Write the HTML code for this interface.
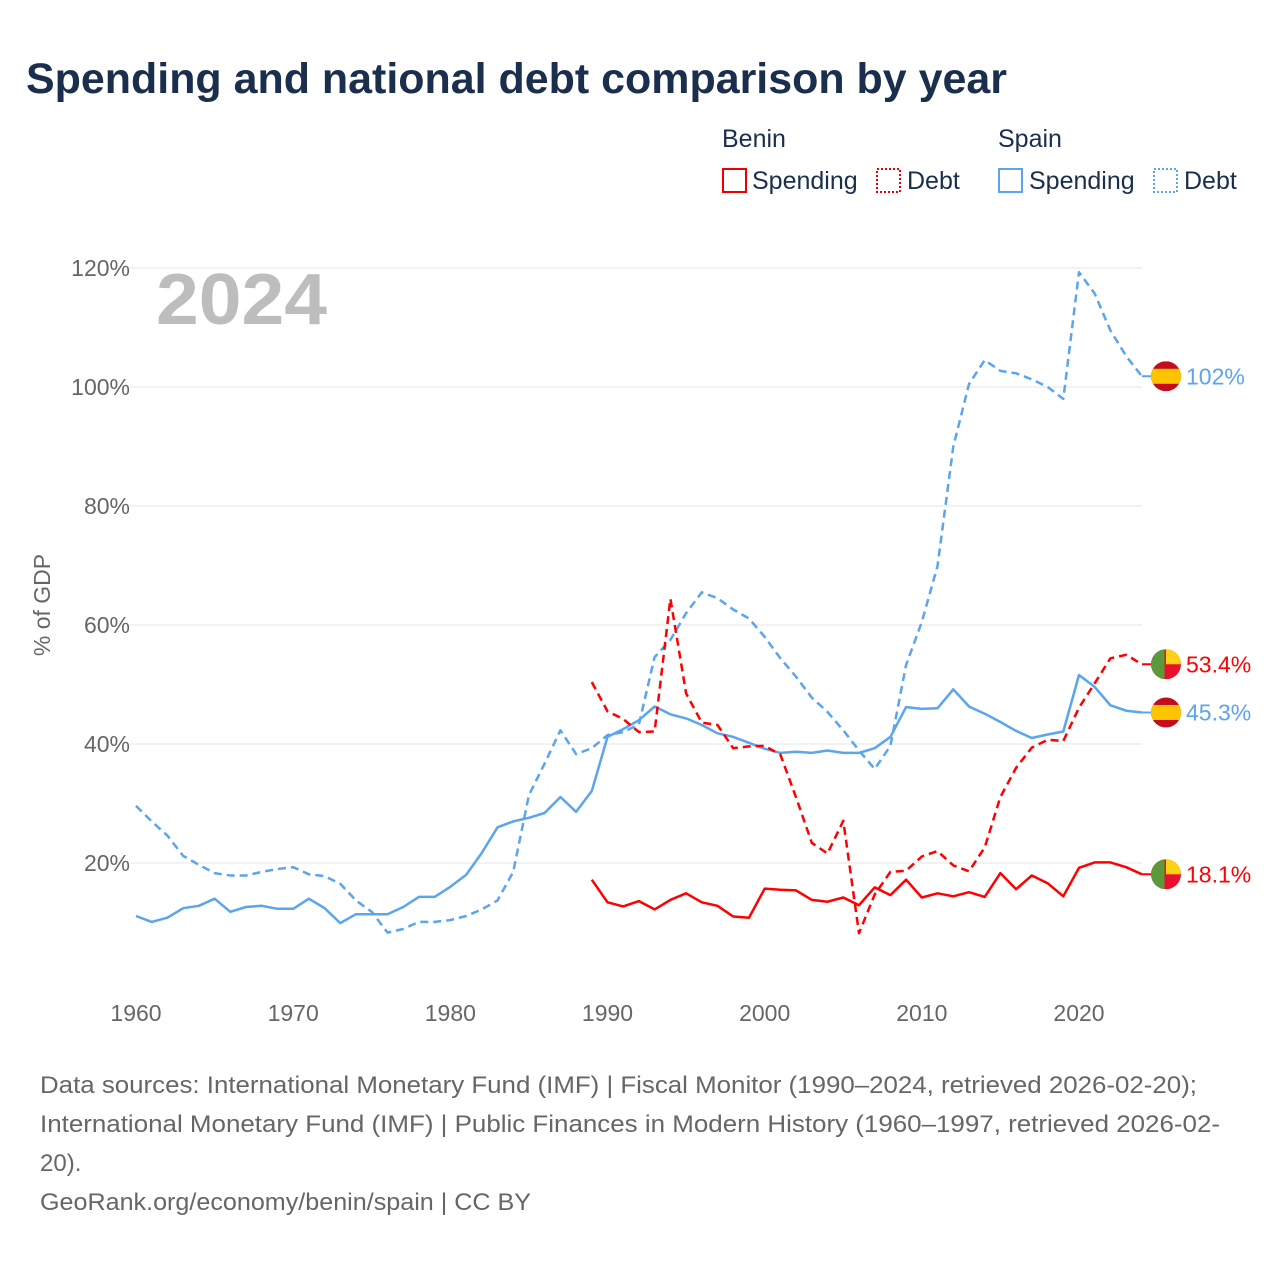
<!DOCTYPE html>
<html><head><meta charset="utf-8"><style>
body{margin:0;background:#fff;font-family:"Liberation Sans",sans-serif;}
#wrap{position:relative;width:1280px;height:1280px;overflow:hidden;}
</style></head><body>
<div id="wrap">
<svg id="svg" width="1280" height="1280" xmlns="http://www.w3.org/2000/svg">
<text x="26" y="93" font-size="43" font-weight="bold" fill="#1a2e4d" textLength="981" lengthAdjust="spacingAndGlyphs">Spending and national debt comparison by year</text>
<g font-size="25" fill="#1a2e4d">
<text x="722" y="147">Benin</text>
<text x="998" y="147">Spain</text>
<g><rect x="723" y="169" width="23" height="23" fill="none" stroke="#e00" stroke-width="2"/><text x="752" y="189">Spending</text></g>
<g><rect x="877" y="169" width="23" height="23" fill="none" stroke="#e00" stroke-width="2" stroke-dasharray="2,2"/><text x="907" y="189">Debt</text></g>
<g><rect x="999" y="169" width="23" height="23" fill="none" stroke="#5ba4ee" stroke-width="2"/><text x="1029" y="189">Spending</text></g>
<g><rect x="1154" y="169" width="23" height="23" fill="none" stroke="#5ba4ee" stroke-width="2" stroke-dasharray="2,2"/><text x="1184" y="189">Debt</text></g>
</g>
<text x="156" y="324" font-size="72" font-weight="bold" fill="#bdbdbd" textLength="171" lengthAdjust="spacingAndGlyphs">2024</text>
<text transform="translate(50,605) rotate(-90)" text-anchor="middle" font-size="23" fill="#666">% of GDP</text>
<g id="grid"></g><g id="lines"></g><g id="marks"></g>
<g font-size="24" fill="#666">
<text x="40" y="1093" textLength="1157" lengthAdjust="spacingAndGlyphs">Data sources: International Monetary Fund (IMF) | Fiscal Monitor (1990–2024, retrieved 2026-02-20);</text>
<text x="40" y="1132" textLength="1180" lengthAdjust="spacingAndGlyphs">International Monetary Fund (IMF) | Public Finances in Modern History (1960–1997, retrieved 2026-02-</text>
<text x="40" y="1171">20).</text>
<text x="40" y="1210" textLength="491" lengthAdjust="spacingAndGlyphs">GeoRank.org/economy/benin/spain | CC BY</text>
</g>
</svg></div>
<script>
const yTicks=[20,40,60,80,100,120];
const xTicks=[1960,1970,1980,1990,2000,2010,2020];
const spainYears0=1960;
const spainSpending=[11.1,10.1,10.8,12.4,12.8,14.0,11.8,12.6,12.8,12.3,12.3,14.0,12.4,9.9,11.4,11.4,11.4,12.6,14.3,14.3,16,18,21.7,26,27,27.6,28.4,31.1,28.6,32.1,41.2,42.5,44,46.3,45,44.3,43.2,41.8,41.2,40.2,39.2,38.5,38.7,38.5,38.9,38.5,38.5,39.3,41.2,46.2,45.9,46,49.2,46.3,45.1,43.7,42.2,41,41.6,42.1,51.6,49.6,46.5,45.6,45.3];
const spainDebt=[29.6,27,24.6,21.2,19.7,18.3,17.9,17.9,18.5,19,19.3,18.1,17.8,16.5,13.7,11.8,8.3,8.9,10.1,10.1,10.4,11.1,12.2,13.7,18.5,31.4,36.7,42.3,38.3,39.3,41.5,42,43.3,54.6,57.5,62,65.5,64.5,62.6,61.1,58,54.4,51.3,47.8,45.4,42.3,38.9,35.8,39.7,53.3,60.5,69.9,90,100.5,104.5,102.7,102.3,101.3,100,98,119.3,115.7,109.5,105.2,101.8];
const beninYears0=1989;
const beninSpending=[17.2,13.4,12.7,13.6,12.2,13.8,14.9,13.4,12.8,11,10.8,15.7,15.5,15.4,13.8,13.5,14.2,12.9,15.9,14.6,17.2,14.2,14.9,14.4,15.1,14.3,18.3,15.6,17.9,16.6,14.4,19.2,20.1,20.1,19.3,18.1];
const beninDebt=[50.4,45.5,44.2,42,42.1,64.4,48.5,43.6,43.2,39.3,39.6,39.7,38.2,31,23.4,21.6,27.1,8.2,14.7,18.5,18.7,21.1,22,19.6,18.6,22.6,31.1,36,39.4,40.7,40.5,46.1,50.2,54.4,55,53.4];
const NS='http://www.w3.org/2000/svg';
const X=y=>136+(y-1960)*(1079-136)/60;
const Y=v=>982-v*(982-268)/120;
const grid=document.getElementById('grid'),lines=document.getElementById('lines'),marks=document.getElementById('marks');
function mk(t,a,p){const e=document.createElementNS(NS,t);for(const k in a)e.setAttribute(k,a[k]);p.appendChild(e);return e;}
yTicks.forEach(v=>{
 const l=mk('line',{x1:130,x2:1142,y1:Y(v),y2:Y(v),stroke:'#e6e6e6','stroke-width':1},grid);
 
 
 const t=mk('text',{x:130,y:Y(v)+8,'text-anchor':'end','font-size':23,fill:'#666'},grid);t.textContent=v+'%';
 
 
});
xTicks.forEach(v=>{
 const t=mk('text',{x:X(v),y:1021,'text-anchor':'middle','font-size':23,fill:'#666'},grid);t.textContent=v;
 
 
});
function line(arr,y0,color,dash,name){
 const d=arr.map((v,i)=>(i?'L':'M')+X(y0+i).toFixed(1)+','+Y(v).toFixed(1)).join('');
 const p=mk('path',{d:d,fill:'none',stroke:color,'stroke-width':2.5,'stroke-linejoin':'round'},lines);
 if(dash)p.setAttribute('stroke-dasharray','8,5');
 
 
}
line(spainDebt,spainYears0,'#5ba4ee',true,'spain-debt-line');
line(spainSpending,spainYears0,'#5ba4ee',false,'spain-spending-line');
line(beninDebt,beninYears0,'#f00',true,'benin-debt-line');
line(beninSpending,beninYears0,'#f00',false,'benin-spending-line');
function flag(v,kind,color,label,name){
 const cx=1166,cy=Y(v),r=15;
 const g=mk('g',{},marks);
 
 
 mk('line',{x1:1142,x2:cx,y1:cy,y2:cy,stroke:color,'stroke-width':2},g);
 const id='c'+name;const cp=mk('clipPath',{id:id},g);mk('circle',{cx:cx,cy:cy,r:r},cp);
 const gg=mk('g',{'clip-path':'url(#'+id+')'},g);
 if(kind==='es'){mk('rect',{x:cx-r,y:cy-r,width:2*r,height:2*r,fill:'#c60b1e'},gg);mk('rect',{x:cx-r,y:cy-r/2,width:2*r,height:r,fill:'#ffc400'},gg);}
 else{mk('rect',{x:cx-r,y:cy-r,width:2*r,height:2*r,fill:'#e8112d'},gg);mk('rect',{x:cx,y:cy-r,width:r,height:r,fill:'#fcd116'},gg);mk('rect',{x:cx-r,y:cy-r,width:r*0.9,height:2*r,fill:'#5b9a3a'},gg);}
 const t=mk('text',{x:1186,y:cy+8,'font-size':23,fill:color},g);t.textContent=label;
}
flag(spainDebt[spainDebt.length-1],'es','#5ba4ee','102%','spain-debt-end-label');
flag(beninDebt[beninDebt.length-1],'bj','#f00','53.4%','benin-debt-end-label');
flag(spainSpending[spainSpending.length-1],'es','#5ba4ee','45.3%','spain-spending-end-label');
flag(beninSpending[beninSpending.length-1],'bj','#f00','18.1%','benin-spending-end-label');
</script>
</body></html>
